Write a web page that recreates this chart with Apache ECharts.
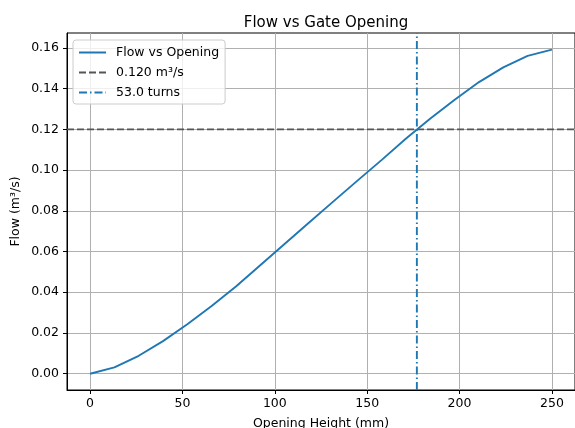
<!DOCTYPE html>
<html>
<head>
<meta charset="utf-8">
<script src="https://cdn.jsdelivr.net/npm/echarts@6/dist/echarts.min.js"></script>
<style>
  html, body { margin: 0; padding: 0; background: #fff; }
</style>
</head>
<body>
<div id="main" style="width: 575px;height: 428px"></div>
<script>
// opening height (mm) and flow (m3/s)
var opening = [0, 13.16, 26.32, 39.47, 52.63, 65.79, 78.95, 92.11, 105.26, 118.42,
  131.58, 144.74, 157.89, 171.05, 184.21, 197.37, 210.53, 223.68, 236.84, 250];
var flow = [0, 0.0031, 0.0088, 0.0160, 0.0243, 0.0332, 0.0428, 0.0533, 0.0637, 0.0741,
  0.0845, 0.0948, 0.1050, 0.1155, 0.1253, 0.1345, 0.1432, 0.1504, 0.1561, 0.1591];
var targetFlow = 0.12;
var targetOpening = 176.9;
var xTicks = [0, 50, 100, 150, 200, 250];
var yTicks = [0, 0.02, 0.04, 0.06, 0.08, 0.10, 0.12, 0.14, 0.16];

var xMin = -12.5, xMax = 262.5;
var yMin = -0.008, yMax = 0.1673;

var chartDom = document.getElementById('main');
var myChart = echarts.init(chartDom);
var font = 'DejaVu Sans';
var blue = '#1f77b4';

var flowData = [];
for (var i = 0; i < opening.length; i++) {
  flowData.push([opening[i], flow[i]]);
}

var option = {
  animation: false,
  textStyle: { fontFamily: font },
  title: {
    text: 'Flow vs Gate Opening',
    left: 321,
    textAlign: 'center',
    top: 11,
    textStyle: { fontFamily: font, fontSize: 15, fontWeight: 'normal', color: '#000' }
  },
  legend: {
    orient: 'vertical',
    left: 73,
    top: 40,
    padding: [6, 6, 5, 5],
    itemWidth: 27,
    itemHeight: 10,
    itemGap: 7,
    backgroundColor: 'rgba(255,255,255,0.8)',
    borderColor: '#cccccc',
    borderWidth: 1,
    borderRadius: 3,
    itemStyle: { opacity: 0 },
    textStyle: { fontFamily: font, fontSize: 12.5, color: '#000', padding: [0, 0, 0, 5] },
    data: ['Flow vs Opening', '0.120 m³/s', '53.0 turns']
  },
  grid: {
    left: 67, right: 0, top: 33, bottom: 38,
    outerBoundsMode: 'none',
    show: true, borderColor: '#000', borderWidth: 1, backgroundColor: 'transparent'
  },
  xAxis: {
    type: 'value',
    min: xMin,
    max: xMax,
    name: 'Opening Height (mm)',
    nameLocation: 'middle',
    nameGap: 27,
    nameMoveOverlap: false,
    nameTextStyle: { fontFamily: font, fontSize: 12.5, color: '#000' },
    axisLine: { onZero: false, lineStyle: { color: '#000', width: 1 } },
    axisTick: { customValues: xTicks, length: 4, lineStyle: { color: '#000' } },
    axisLabel: { customValues: xTicks, margin: 7, fontFamily: font, fontSize: 12.5, color: '#000' },
    splitLine: { show: true, lineStyle: { color: '#b0b0b0', width: 1 } }
  },
  yAxis: {
    type: 'value',
    min: yMin,
    max: yMax,
    name: 'Flow (m³/s)',
    nameLocation: 'middle',
    nameGap: 45,
    nameMoveOverlap: false,
    nameTextStyle: { fontFamily: font, fontSize: 12.5, color: '#000' },
    axisLine: { show: true, onZero: false, lineStyle: { color: '#000', width: 1 } },
    axisTick: { show: true, customValues: yTicks, length: 4, lineStyle: { color: '#000' } },
    axisLabel: {
      customValues: yTicks, margin: 8, fontFamily: font, fontSize: 12.5, color: '#000',
      formatter: function (v) { return v.toFixed(2); }
    },
    splitLine: { show: true, lineStyle: { color: '#b0b0b0', width: 1 } }
  },
  series: [
    {
      name: 'Flow vs Opening',
      type: 'line',
      data: flowData,
      symbol: 'none',
      lineStyle: { color: blue, width: 1.9 },
      itemStyle: { color: blue },
      z: 5
    },
    {
      name: '0.120 m³/s',
      type: 'line',
      data: [[xMin, targetFlow], [xMax, targetFlow]],
      symbol: 'none',
      lineStyle: { color: '#555555', width: 1.9, type: [7, 3] },
      itemStyle: { color: '#555555' },
      z: 4
    },
    {
      name: '53.0 turns',
      type: 'line',
      data: [[targetOpening, yMin], [targetOpening, yMax]],
      symbol: 'none',
      lineStyle: { color: blue, width: 1.9, type: [8, 3, 1.5, 3] },
      itemStyle: { color: blue },
      z: 4
    }
  ]
};

option && myChart.setOption(option);
</script>
</body>
</html>
